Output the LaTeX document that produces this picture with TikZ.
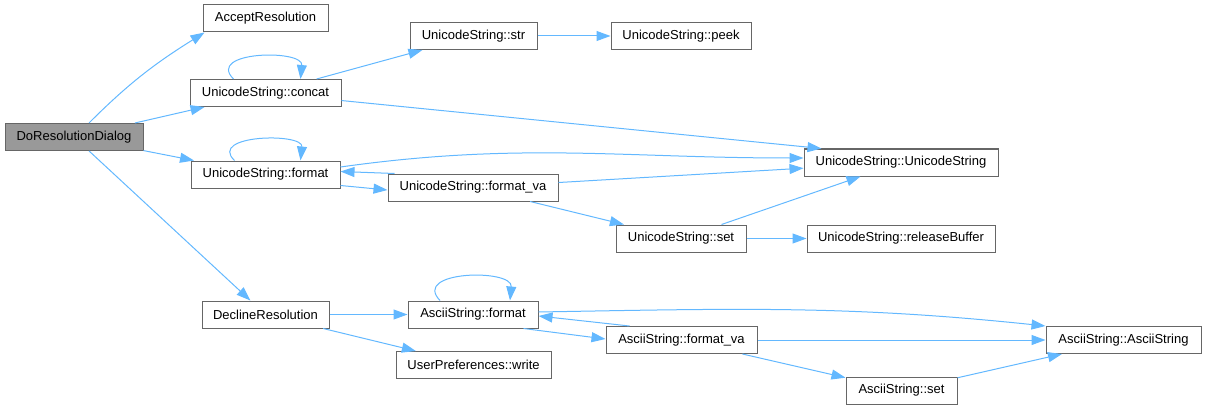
\documentclass[tikz,border=0pt]{standalone}
\usepackage{fontspec}
\setmainfont{Liberation Sans}
\usetikzlibrary{arrows.meta}
\definecolor{edgeblue}{RGB}{99,184,255}
\definecolor{boxgray}{RGB}{102,102,102}
\definecolor{curgray}{RGB}{153,153,153}

\begin{document}
\begin{tikzpicture}[x=1pt, y=1pt,
    fn/.style={draw=boxgray, fill=white, line width=1pt, minimum height=27pt, inner sep=0pt, font=\fontsize{13}{15}\selectfont},
    call/.style={-{Triangle[length=14pt,width=10pt]}, draw=edgeblue, line width=1pt}]
        \useasboundingbox (0,0) rectangle (1207,-409);

        \node (dlg) [fn, fill=curgray, minimum width=138pt] at (74,-137) {DoResolutionDialog};
        \node (accept) [fn, minimum width=125pt] at (265.5,-18.5) {AcceptResolution};
        \node (concat) [fn, minimum width=151pt] at (265.5,-93) {UnicodeString::concat};
        \node (fmt) [fn, minimum width=149pt] at (265.5,-174.5) {UnicodeString::format};
        \node (decline) [fn, minimum width=127pt] at (265.5,-314.5) {DeclineResolution};
        \node (str) [fn, minimum width=127pt] at (473.5,-36) {UnicodeString::str};
        \node (fmtva) [fn, minimum width=170pt] at (473,-187.5) {UnicodeString::format\_va};
        \node (afmt) [fn, minimum width=130pt] at (473,-314.5) {AsciiString::format};
        \node (write) [fn, minimum width=155pt] at (473.5,-365) {UserPreferences::write};
        \node (peek) [fn, minimum width=140pt] at (681,-36) {UnicodeString::peek};
        \node (uset) [fn, minimum width=130pt] at (681,-238.5) {UnicodeString::set};
        \node (afmtva) [fn, minimum width=151pt] at (681.5,-340) {AsciiString::format\_va};
        \node (ctor) [fn, minimum width=194pt] at (901,-162.5) {UnicodeString::UnicodeString};
        \node (release) [fn, minimum width=188pt] at (901,-238.5) {UnicodeString::releaseBuffer};
        \node (aset) [fn, minimum width=111pt] at (901.5,-390.5) {AsciiString::set};
        \node (actor) [fn, minimum width=155pt] at (1123.5,-340) {AsciiString::AsciiString};

        \draw[call] ([xshift=15pt]dlg.north) to[out=45, in=212] ([xshift=2pt]accept.south west);
        \draw[call] (dlg) -- (concat);
        \draw[call] (dlg) -- (fmt);
        \draw[call] (dlg) -- (decline);

        \draw[call] ([xshift=-32pt]concat.north) .. controls ([xshift=-60pt,yshift=28pt]concat.north) and ([xshift=38pt,yshift=30pt]concat.north) .. ([xshift=35pt]concat.north);
        \draw[call] (concat) -- (str);
        \draw[call] (concat) -- ([xshift=18pt]ctor.north west);
        \draw[call] (str) -- (peek);

        \draw[call] ([xshift=-31pt]fmt.north) .. controls ([xshift=-58pt,yshift=26pt]fmt.north) and ([xshift=38pt,yshift=28pt]fmt.north) .. ([xshift=35pt]fmt.north);
        \draw[call] ([yshift=7.5pt]fmt.east) to[out=8, in=180] ([yshift=4.5pt]ctor.west);
        \draw[call] ([yshift=-11pt]fmt.east) -- ([yshift=-2.5pt]fmtva.west);
        \draw[call] ([xshift=7pt]fmtva.north west) -- ([yshift=3pt]fmt.east);
        \draw[call] (fmtva) -- (ctor);
        \draw[call] (fmtva) -- (uset);
        \draw[call] (uset) -- (ctor);
        \draw[call] (uset) -- (release);

        \draw[call] (decline) -- (afmt);
        \draw[call] (decline) -- (write);
        \draw[call] ([xshift=-33pt]afmt.north) .. controls ([xshift=-62pt,yshift=30pt]afmt.north) and ([xshift=40pt,yshift=32pt]afmt.north) .. ([xshift=37pt]afmt.north);
        \draw[call] ([yshift=2.5pt]afmt.east) to[out=1, in=174] (actor.north west);
        \draw[call] ([xshift=-15pt]afmt.south east) -- ([yshift=1pt]afmtva.west);
        \draw[call] ([xshift=24pt]afmtva.north west) -- ([yshift=-1.5pt]afmt.east);
        \draw[call] (afmtva) -- (actor);
        \draw[call] (afmtva) -- (aset);
        \draw[call] (aset) -- (actor);
\end{tikzpicture}
\end{document}
